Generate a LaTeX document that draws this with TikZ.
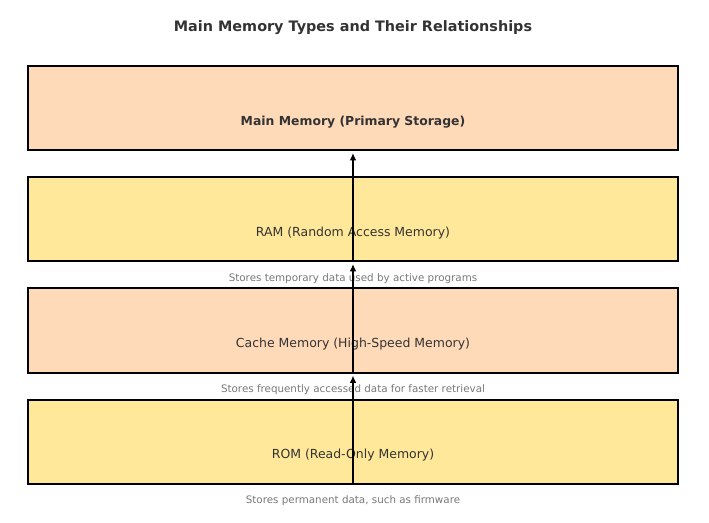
\documentclass[tikz,border=0pt]{standalone}
\usepackage{fontspec}
\setmainfont{DejaVu Sans}
\usetikzlibrary{arrows.meta}
\definecolor{peach}{RGB}{255,218,185}
\definecolor{lyellow}{RGB}{255,232,154}
\definecolor{darktxt}{RGB}{51,51,51}
\definecolor{subtxt}{RGB}{120,120,120}
\tikzset{
  membox/.style={draw=black, line width=1.5pt, minimum width=487.5pt, minimum height=63pt, inner sep=0pt, outer sep=0pt},
  boxlabel/.style={font=\fontsize{9.35}{11}\selectfont, text=darktxt, inner sep=0pt, anchor=center},
  sublabel/.style={font=\fontsize{7.75}{9}\selectfont, text=subtxt, inner sep=0pt, anchor=center},
  titlestyle/.style={font=\bfseries\fontsize{10.8}{13}\selectfont, text=darktxt, inner sep=0pt},
  flow/.style={line width=1.5pt, -{Latex[length=5.5pt,width=5pt]}, shorten >=2.25pt}
}
\begin{document}
\begin{tikzpicture}[x=0.75pt,y=-0.75pt]
\useasboundingbox (0,0) rectangle (709,523);
\node[titlestyle] (title) at (353,27.5) {Main Memory Types and Their Relationships};
\node[membox, fill=peach] (main) at (353,108) {};
\node[membox, fill=lyellow] (ram) at (353,219) {};
\node[membox, fill=peach] (cache) at (353,330.5) {};
\node[membox, fill=lyellow] (rom) at (353,441.5) {};
\node[boxlabel, font=\bfseries\fontsize{9.3}{11}\selectfont] (mainlbl) at (353,122.5) {Main Memory (Primary Storage)};
\node[boxlabel] (ramlbl) at (353,233.5) {RAM (Random Access Memory)};
\node[boxlabel] (cachelbl) at (353,344.5) {Cache Memory (High-Speed Memory)};
\node[boxlabel] (romlbl) at (353,455.5) {ROM (Read-Only Memory)};
\node[sublabel] (ramsub) at (353,279) {Stores temporary data used by active programs};
\node[sublabel] (cachesub) at (353,389.5) {Stores frequently accessed data for faster retrieval};
\node[sublabel] (romsub) at (353,500.5) {Stores permanent data, such as firmware};
\draw[flow] (rom.south) -- (cache.south);
\draw[flow] (cache.south) -- (ram.south);
\draw[flow] (ram.south) -- (main.south);
\end{tikzpicture}
\end{document}
